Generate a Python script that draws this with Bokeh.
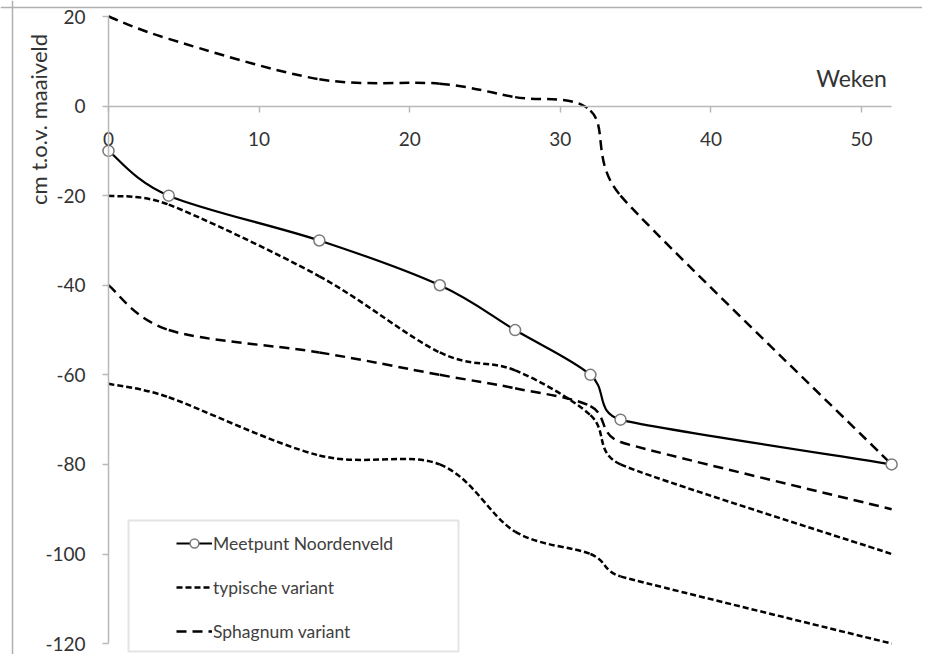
import math
import numpy as np
from bokeh.plotting import figure
from bokeh.models import (Range1d, FixedTicker, Legend, LegendItem, Label,
                          BoxAnnotation, Span, ColumnDataSource, NumeralTickFormatter)
from bokeh.embed import file_html
from bokeh.resources import INLINE

# ---- data ----
weeks = [0, 4, 14, 22, 27, 32, 34, 52]
meetpunt = [-10, -20, -30, -40, -50, -60, -70, -80]
sphagnum_hoog = [20, 15, 6, 5, 2, -1, -20, -80]
typisch_hoog = [-20, -22, -38, -55, -59, -69, -80, -100]
sphagnum_laag = [-40, -50, -55, -60, -63, -67, -75, -90]
typisch_laag = [-62, -65, -78, -80, -95, -100, -105, -120]

x_ticks = [0, 10, 20, 30, 40, 50]
y_ticks = [-120, -100, -80, -60, -40, -20, 0, 20]

labels = ["Meetpunt Noordenveld", "typische variant", "Sphagnum variant"]

# ---- layout ----
W, H = 922, 654
X0_PX, X_SCALE = 108.0, 15.06      # pixel of x=0, pixels per week
Y0_PX, Y_SCALE = 105.6, 4.479      # pixel of y=0, pixels per cm
x_range = Range1d(-X0_PX / X_SCALE, (W - X0_PX) / X_SCALE)
y_range = Range1d((Y0_PX - H) / Y_SCALE, Y0_PX / Y_SCALE)


def smooth_source(xs, ys):
    """Excel-like smoothed line: Bezier control points (tension 1/6, clamped)."""
    X = [x * X_SCALE for x in xs]
    Y = [y * Y_SCALE for y in ys]
    n = len(X)
    off = []
    for i in range(n):
        if i == 0:
            off.append(((X[1] - X[0]) / 6.0, (Y[1] - Y[0]) / 6.0))
        elif i == n - 1:
            off.append(((X[i] - X[i - 1]) / 6.0, (Y[i] - Y[i - 1]) / 6.0))
        else:
            d02 = math.hypot(X[i + 1] - X[i - 1], Y[i + 1] - Y[i - 1])
            d01 = math.hypot(X[i] - X[i - 1], Y[i] - Y[i - 1])
            d12 = math.hypot(X[i + 1] - X[i], Y[i + 1] - Y[i])
            f = min(1 / 6.0, d01 / (2 * d02), d12 / (2 * d02)) if d02 > 0 else 0
            off.append((f * (X[i + 1] - X[i - 1]), f * (Y[i + 1] - Y[i - 1])))
    d = {k: [] for k in ("x0", "y0", "x1", "y1", "cx0", "cy0", "cx1", "cy1")}
    for i in range(n - 1):
        d["x0"].append(xs[i]); d["y0"].append(ys[i])
        d["x1"].append(xs[i + 1]); d["y1"].append(ys[i + 1])
        d["cx0"].append((X[i] + off[i][0]) / X_SCALE)
        d["cy0"].append((Y[i] + off[i][1]) / Y_SCALE)
        d["cx1"].append((X[i + 1] - off[i + 1][0]) / X_SCALE)
        d["cy1"].append((Y[i + 1] - off[i + 1][1]) / Y_SCALE)
    return ColumnDataSource(d)


p = figure(width=W, height=H, output_backend="svg", toolbar_location=None,
           x_range=x_range, y_range=y_range,
           min_border_left=0, min_border_right=0, min_border_top=0,
           min_border_bottom=0)
p.outline_line_color = None
p.grid.visible = False
p.background_fill_color = "white"
p.border_fill_color = "white"

axis_col = "#b8b8b8"
font = "Lato"
for ax in (p.xaxis, p.yaxis):
    ax.axis_line_color = axis_col
    ax.axis_line_width = 1.5
    ax.major_tick_line_color = axis_col
    ax.major_tick_line_width = 1.5
    ax.major_tick_in = 0
    ax.major_tick_out = 6
    ax.minor_tick_line_color = None
    ax.major_label_text_font = font
    ax.major_label_text_font_size = "19px"
    ax.major_label_text_color = "#333333"
    ax.formatter = NumeralTickFormatter(format="0")

p.xaxis.fixed_location = 0
p.yaxis.fixed_location = 0
p.xaxis.bounds = (0, 52)
p.yaxis.bounds = (-120, 20)
p.xaxis.ticker = FixedTicker(ticks=x_ticks)
p.yaxis.ticker = FixedTicker(ticks=y_ticks)
p.xaxis.major_label_standoff = 20
p.yaxis.major_label_standoff = 17

# outer gray frame lines (top and left)
p.add_layout(Span(location=(Y0_PX - 7) / Y_SCALE, dimension="width",
                  line_color="#b0b0b0", line_width=1.5))
p.add_layout(Span(location=(12 - X0_PX) / X_SCALE, dimension="height",
                  line_color="#b0b0b0", line_width=1.5))

long_dash = "10 6"
short_dash = "6 3"
bz = dict(x0="x0", y0="y0", x1="x1", y1="y1", cx0="cx0", cy0="cy0",
          cx1="cx1", cy1="cy1")

r_sh = p.bezier(source=smooth_source(weeks, sphagnum_hoog), line_color="black",
                line_width=2.5, line_dash=long_dash, **bz)
r_sl = p.bezier(source=smooth_source(weeks, sphagnum_laag), line_color="black",
                line_width=2.5, line_dash=long_dash, **bz)
r_th = p.bezier(source=smooth_source(weeks, typisch_hoog), line_color="black",
                line_width=2.5, line_dash=short_dash, **bz)
r_tl = p.bezier(source=smooth_source(weeks, typisch_laag), line_color="black",
                line_width=2.5, line_dash=short_dash, **bz)
r_m = p.bezier(source=smooth_source(weeks, meetpunt), line_color="black",
               line_width=2.2, **bz)
r_mc = p.scatter(weeks, meetpunt, marker="circle", size=11, fill_color="white",
                 line_color="#7a7a7a", line_width=1.5)

# axis titles
p.add_layout(Label(x=(851 - X0_PX) / X_SCALE, y=(Y0_PX - 77) / Y_SCALE,
                   text="Weken", text_align="center", text_baseline="middle",
                   text_font=font, text_font_size="23px", text_color="#333333"))
p.add_layout(Label(x=(37.5 - X0_PX) / X_SCALE, y=(Y0_PX - 119) / Y_SCALE,
                   text="cm t.o.v. maaiveld", angle=np.pi / 2,
                   text_align="center", text_baseline="middle", text_font=font,
                   text_font_size="22px", text_color="#333333"))

# legend box and legend
p.add_layout(BoxAnnotation(left=(128 - X0_PX) / X_SCALE, right=(458 - X0_PX) / X_SCALE,
                           top=(Y0_PX - 520) / Y_SCALE, bottom=(Y0_PX - 651) / Y_SCALE,
                           fill_color="white", fill_alpha=1.0,
                           line_color="#a6a6a6", line_width=2))
legend = Legend(items=[LegendItem(label=labels[0], renderers=[r_m, r_mc]),
                       LegendItem(label=labels[1], renderers=[r_th]),
                       LegendItem(label=labels[2], renderers=[r_sh])],
                location=(176, 12), padding=0, spacing=22, margin=0,
                label_height=22, glyph_height=22, glyph_width=36,
                label_standoff=1, border_line_alpha=0, background_fill_alpha=0,
                label_text_font=font, label_text_font_size="17.5px",
                label_text_color="#404040")
p.add_layout(legend)

open("out.html", "w").write(file_html(p, INLINE))
